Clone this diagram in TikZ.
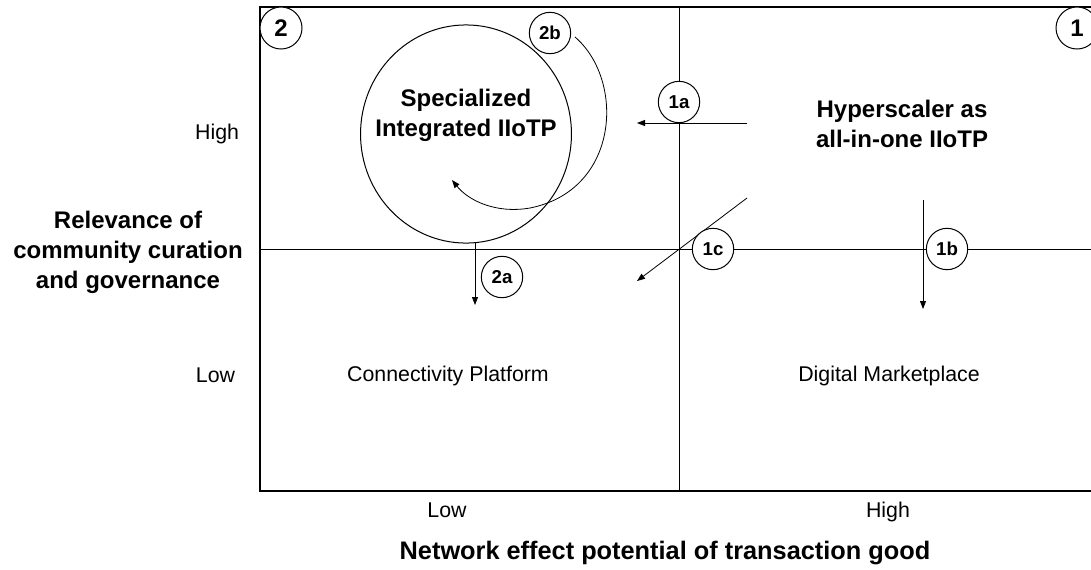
\documentclass[tikz,border=0pt]{standalone}
\usepackage{fontspec}
\setmainfont{Liberation Sans}
\usetikzlibrary{arrows.meta}
\tikzset{every picture/.style={line width=0.75pt}}
\tikzset{
  tag/.style={draw, circle, fill=white, inner sep=0pt, minimum size=31pt, font=\bfseries\fontsize{14}{16}\selectfont},
  bigtag/.style={tag, minimum size=31.5pt, font=\bfseries\fontsize{18}{20}\selectfont},
  title/.style={align=center, font=\bfseries\fontsize{18}{22.5}\selectfont},
  axis/.style={anchor=base, font=\fontsize{16}{19}\selectfont},
  move/.style={-{Triangle[length=6pt,width=4.5pt]}, line width=0.6pt},
}

\begin{document}
\begin{tikzpicture}[x=0.75pt,y=0.75pt,yscale=-1,xscale=1]
		\useasboundingbox (0,0) rectangle (1091,569);
		\clip (0,0) rectangle (1091,569);
		
		%Shape: Rectangle
		\draw [line width=1.1pt] (260,7) rectangle (1098,491) ;
		%Straight Lines
		\draw (679,7) -- (679,491) ;
		\draw (260,249) -- (1098,249) ;
		
		%Shape: Ellipse
		\draw (466,134) ellipse (79.1pt and 81.8pt) ;
		
		%Arrow ends
		\coordinate (a1s) at (747,123) ;
		\coordinate (a1e) at (637,123) ;
		\coordinate (c1s) at (747,198) ;
		\coordinate (c1e) at (637,281) ;
		\coordinate (b1s) at (923,200) ;
		\coordinate (b1e) at (923,309) ;
		\coordinate (a2s) at (475,243) ;
		\coordinate (a2e) at (475,305) ;
		\coordinate (b2s) at (575,37) ;
		\coordinate (b2m) at (530,208) ;
		\coordinate (b2e) at (452,180) ;
		
		%Arrows
		\draw [move] (a1s) -- (a1e) ;
		\draw [move] (c1s) -- (c1e) ;
		\draw [move] (b1s) -- (b1e) ;
		\draw [move] (a2s) -- (a2e) ;
		\draw [move] (b2s) .. controls (625,80) and (620,190) .. (b2m) .. controls (495,214) and (468,200) .. (b2e) ;
		
		%Tags
		\node [bigtag] (q2) at (281,28) {2};
		\node [bigtag] (q1) at (1077,28) {1};
		\node [tag] (t2b) at (550,33) {2b};
		\node [tag] (t2a) at (502,277) {2a};
		\node [tag] (t1a) at (679,102) {1a};
		\node [tag] (t1c) at (713,249) {1c};
		\node [tag] (t1b) at (947,249) {1b};
		
		%Labels
		\node [title] (spec) at (466,115) {Specialized\\Integrated IIoTP};
		\node [title] (hyper) at (902,124) {Hyperscaler as\\all-in-one IIoTP};
		\node [axis] (conn) at (448,381) {Connectivity Platform};
		\node [axis] (market) at (889,381) {Digital Marketplace};
		\node [axis, anchor=base east] (yhigh) at (244,139) {High};
		\node [axis, anchor=base east] (ylow) at (240,382) {Low};
		\node [axis] (xlow) at (447,517) {Low};
		\node [axis] (xhigh) at (888,517) {High};
		\node [title] (ytitle) at (128,252) {Relevance of\\community curation\\and governance};
		\node [title, font=\bfseries\fontsize{19}{22.5}\selectfont] (xtitle) at (665,553) {Network effect potential of transaction good};
		
		\end{tikzpicture}
\end{document}
